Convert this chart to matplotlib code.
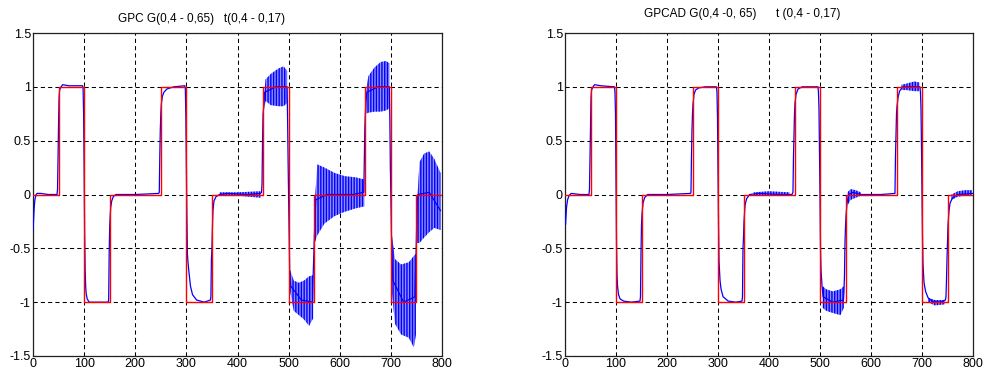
import matplotlib
matplotlib.use("Agg")
import matplotlib.pyplot as plt
from matplotlib.ticker import FixedLocator, FixedFormatter

plt.rcParams['font.family'] = ['Liberation Sans', 'DejaVu Sans']
plt.rcParams['hatch.linewidth'] = 1.0

# ---------------- data ----------------
# reference (set point) steps, shared by both panels
ref_t = [0, 50, 100, 150, 250, 300, 350, 450, 500, 550, 650, 700, 750, 800]
ref_y = [0, 1, -1, 0, 1, -1, 0, 1, -1, 0, 1, -1, 0, 0]

x_ticks = [0, 100, 200, 300, 400, 500, 600, 700, 800]
y_ticks = [-1.5, -1, -0.5, 0, 0.5, 1, 1.5]
y_labels = ["-1.5", "-1", "-0.5", "0", "0.5", "1", "1.5"]

titles = ["GPC G(0,4 - 0,65)   t(0,4 - 0,17)",
          "GPCAD G(0,4 -0, 65)      t (0,4 - 0,17)"]

# GPC output (mean trace)
gpc_t = [0, 1, 2, 3, 4, 6, 8, 10, 15, 30, 47, 48, 49, 50, 51, 52, 55, 58, 70, 97,
         98, 99, 100, 101, 102, 103, 104, 106, 110, 120, 147, 148, 149, 150, 151, 152, 154, 157, 162, 200,
         246, 247, 248, 249, 250, 251, 253, 256, 262, 275, 297, 298, 299, 300, 301, 302, 303, 305, 308, 312,
         320, 335, 347, 348, 349, 350, 351, 352, 354, 358, 365, 380, 420, 445, 447, 448, 449, 450, 451, 453,
         475, 497, 498, 499, 500, 501, 502, 504, 525, 547, 548, 549, 550, 551, 553, 575, 600, 625, 647, 648,
         649, 650, 651, 653, 675, 697, 698, 699, 700, 701, 702, 704, 725, 747, 748, 749, 750, 751, 753, 775, 797]
gpc_y = [-0.33, -0.25, -0.15, -0.08, -0.04, 0.0, 0.01, 0.01, 0.01, 0.0, 0.0, 0.05, 0.35, 0.66, 0.9, 0.97, 1.0, 1.02, 1.01, 1.01,
         0.98, 0.75, 0.27, -0.35, -0.7, -0.85, -0.92, -0.97, -1.0, -1.0, -1.0, -0.98, -0.55, -0.3, -0.2, -0.12, -0.06, -0.02, 0.0, 0.0,
         0.01, 0.02, 0.35, 0.6, 0.75, 0.84, 0.91, 0.95, 0.98, 1.0, 1.01, 0.98, 0.72, 0.27, -0.2, -0.55, -0.62, -0.72, -0.85, -0.93,
         -0.98, -1.0, -0.98, -0.95, -0.6, -0.5, -0.3, -0.15, -0.06, -0.02, 0.0, 0.01, 0.0, 0.01, 0.02, 0.1, 0.5, 0.75, 0.8, 0.95,
         1.0, 1.0, 0.7, 0.3, -0.03, -0.35, -0.7, -0.85, -0.98, -1.0, -0.75, -0.6, -0.45, -0.3, -0.05, 0.0, 0.0, 0.0, 0.02, 0.3,
         0.6, 0.75, 0.85, 0.95, 1.0, 1.0, 0.7, 0.25, 0.0, -0.35, -0.55, -0.8, -1.0, -0.95, -0.75, -0.6, -0.4, -0.15, 0.0, 0.02, -0.15]

# GPC oscillation envelopes, one list per segment
gpc_osc_t = [[365, 400, 445],
             [451, 455, 465, 480, 490, 497],
             [503, 510, 520, 530, 540, 548],
             [551, 556, 570, 590, 610, 630, 648],
             [651, 656, 668, 680, 690, 697],
             [702, 708, 720, 735, 745, 749],
             [751, 756, 765, 775, 785, 797]]
gpc_osc_hi = [[0.02, 0.02, 0.03],
              [0.85, 1.07, 1.12, 1.17, 1.19, 1.15],
              [-0.7, -0.8, -0.82, -0.8, -0.76, -0.75],
              [-0.1, 0.28, 0.25, 0.2, 0.17, 0.16, 0.14],
              [0.95, 1.1, 1.18, 1.23, 1.24, 1.22],
              [-0.38, -0.6, -0.65, -0.63, -0.57, -0.55],
              [-0.1, 0.3, 0.38, 0.4, 0.33, 0.2]]
gpc_osc_lo = [[-0.01, -0.01, -0.03],
              [0.78, 0.87, 0.83, 0.82, 0.82, 0.85],
              [-0.9, -1.08, -1.12, -1.16, -1.22, -1.15],
              [-0.45, -0.38, -0.27, -0.2, -0.16, -0.13, -0.11],
              [0.75, 0.76, 0.77, 0.77, 0.78, 0.8],
              [-0.9, -1.2, -1.3, -1.33, -1.42, -1.3],
              [-0.45, -0.45, -0.4, -0.35, -0.31, -0.33]]

# GPCAD output (mean trace)
gpcad_t = [0, 1, 2, 3, 5, 8, 12, 30, 47, 48, 49, 50, 51, 52, 55, 58, 70, 97, 98, 99,
           100, 101, 102, 103, 105, 108, 115, 130, 147, 148, 149, 150, 151, 153, 156, 162, 200, 246, 247, 248,
           249, 250, 251, 253, 256, 262, 275, 297, 298, 299, 300, 301, 302, 304, 306, 310, 320, 335, 347, 348,
           349, 350, 351, 353, 356, 362, 380, 420, 445, 447, 448, 449, 450, 451, 453, 457, 465, 496, 497, 498,
           499, 500, 501, 502, 504, 506, 525, 546, 547, 548, 549, 550, 551, 553, 556, 565, 580, 620, 647, 648,
           649, 650, 651, 653, 656, 662, 696, 697, 698, 699, 700, 701, 702, 704, 707, 712, 720, 735, 746, 747,
           748, 749, 750, 751, 753, 755, 760, 770, 800]
gpcad_y = [-0.2, -0.28, -0.2, -0.12, -0.05, -0.01, 0.01, 0.0, 0.0, 0.05, 0.35, 0.66, 0.9, 0.97, 1.0, 1.02, 1.01, 1.0, 0.95, 0.75,
           0.2, -0.45, -0.75, -0.85, -0.93, -0.97, -0.99, -1.0, -0.99, -0.95, -0.55, -0.28, -0.18, -0.08, -0.03, 0.0, 0.0, 0.01, 0.02, 0.35,
           0.6, 0.75, 0.84, 0.93, 0.97, 0.99, 1.0, 1.0, 0.95, 0.72, 0.2, -0.25, -0.62, -0.8, -0.88, -0.95, -0.99, -1.0, -0.99, -0.95,
           -0.5, -0.4, -0.25, -0.1, -0.04, 0.0, 0.01, 0.0, 0.0, 0.02, 0.35, 0.55, 0.75, 0.85, 0.93, 0.98, 1.0, 1.0, 0.95, 0.8,
           0.4, 0.0, -0.5, -0.7, -0.85, -0.95, -1.0, -0.98, -0.9, -0.75, -0.45, -0.3, -0.2, -0.08, 0.0, 0.02, 0.0, 0.0, 0.01, 0.35,
           0.55, 0.75, 0.82, 0.9, 0.96, 1.0, 1.0, 0.95, 0.8, 0.45, 0.0, -0.4, -0.65, -0.82, -0.9, -0.96, -0.99, -1.0, -0.98, -0.95,
           -0.8, -0.6, -0.45, -0.28, -0.15, -0.08, -0.03, 0.0, 0.01]

gpcad_osc_t = [[370, 400, 440],
               [505, 512, 525, 540, 547],
               [554, 560, 570, 580],
               [660, 670, 685, 695],
               [712, 725, 745],
               [758, 770, 785, 798]]
gpcad_osc_hi = [[0.02, 0.03, 0.02],
                [-0.85, -0.88, -0.9, -0.88, -0.85],
                [0.02, 0.05, 0.04, 0.02],
                [1.02, 1.03, 1.05, 1.04],
                [-0.96, -0.98, -0.98],
                [0.0, 0.03, 0.04, 0.04]]
gpcad_osc_lo = [[-0.01, -0.01, -0.01],
                [-1.05, -1.08, -1.1, -1.12, -1.05],
                [-0.1, -0.05, -0.03, -0.01],
                [0.97, 0.97, 0.96, 0.96],
                [-1.0, -1.03, -1.02],
                [-0.05, -0.02, -0.01, 0.0]]

BLUE = "#0000ff"
LIGHT_BLUE = "#9090ff"
RED = "#ff0000"

# ---------------- figure ----------------
fig = plt.figure(figsize=(9.85, 3.74), dpi=100)
ax_l = fig.add_axes([33/985, 18/374, 409/985, 323/374])
ax_r = fig.add_axes([565/985, 18/374, 408/985, 323/374])

panels = [
    (ax_l, gpc_t, gpc_y, gpc_osc_t, gpc_osc_lo, gpc_osc_hi, titles[0], 0.413, 1.025),
    (ax_r, gpcad_t, gpcad_y, gpcad_osc_t, gpcad_osc_lo, gpcad_osc_hi, titles[1], 0.435, 1.04),
]

for ax, t, y, ot, olo, ohi, title, tx, ty in panels:
    for st, slo, shi in zip(ot, olo, ohi):
        ax.fill_between(st, slo, shi, facecolor=LIGHT_BLUE, edgecolor=BLUE,
                        hatch="||||||", linewidth=0, zorder=2)
    ax.plot(t, y, color=BLUE, linewidth=0.9, zorder=3)
    ax.step(ref_t, ref_y, where="post", color=RED, linewidth=1.0, zorder=4)

    ax.set_xlim(0, 800)
    ax.set_ylim(-1.5, 1.5)
    ax.xaxis.set_major_locator(FixedLocator(x_ticks))
    ax.yaxis.set_major_locator(FixedLocator(y_ticks))
    ax.yaxis.set_major_formatter(FixedFormatter(y_labels))
    ax.grid(True, color="black", linestyle=(0, (4, 3)), linewidth=0.75, zorder=1)
    ax.set_axisbelow(True)
    ax.tick_params(direction="in", length=0, labelsize=9, pad=1.5)
    for s in ax.spines.values():
        s.set_linewidth(0.9)
        s.set_color("#202020")
    ax.text(tx, ty, title, transform=ax.transAxes, ha="center", va="bottom", fontsize=8.5)

fig.savefig("out.png", dpi=100)
